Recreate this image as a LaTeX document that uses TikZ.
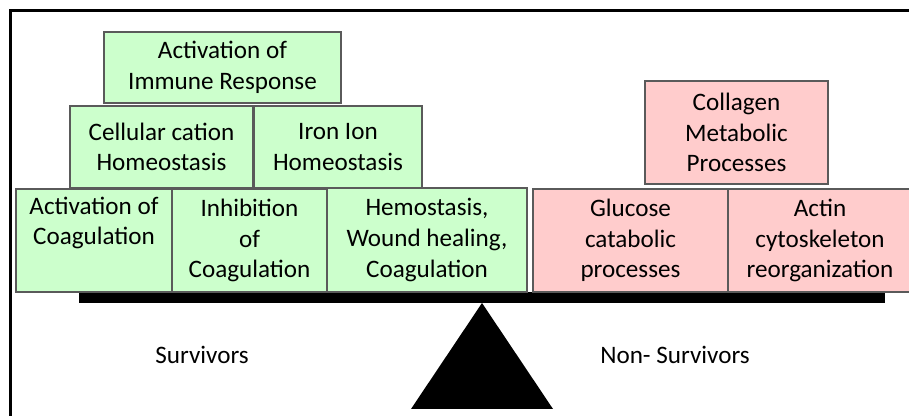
\documentclass[tikz,border=0pt]{standalone}
\usepackage{fontspec}
\setmainfont{Carlito}
\definecolor{survGreen}{RGB}{204,255,204}
\definecolor{nonRed}{RGB}{255,204,204}
\definecolor{boxGray}{RGB}{90,90,90}
\tikzset{
  termbox/.style={rectangle,draw=boxGray,line width=0.7pt,align=center,inner sep=0pt},
  survbox/.style={termbox,fill=survGreen},
  nonbox/.style={termbox,fill=nonRed}
}

\begin{document}
\begin{tikzpicture}[font=\fontsize{14.3}{17.4}\selectfont]
\useasboundingbox (0,0) rectangle (18.18,8.32);
\draw[line width=1.6pt] (18.6,8.11) -- (0.21,8.11) -- (0.21,-0.3);

% Balance
\fill (1.58,2.26) rectangle (17.70,2.48);
\fill (9.64,2.26) -- (11.06,0.14) -- (8.22,0.14) -- cycle;

% Survivors
\node[survbox,minimum width=4.74cm,minimum height=1.42cm] (immune) at (4.45,6.97) {Activation of\\Immune Response};
\node[survbox,minimum width=3.66cm,minimum height=1.64cm] (cation) at (3.23,5.38) {Cellular cation\\Homeostasis};
\node[survbox,minimum width=3.36cm,minimum height=1.64cm] (iron) at (6.76,5.38) {Iron Ion\\Homeostasis};
\node[survbox,minimum width=3.12cm,minimum height=2.06cm] (actcoag) at (1.88,3.51) {Activation of\\Coagulation\\\strut};
\node[survbox,minimum width=3.10cm,minimum height=2.06cm] (inhcoag) at (4.99,3.51) {Inhibition\\of\\Coagulation};
\node[survbox,minimum width=4.00cm,minimum height=2.08cm] (hemo) at (8.54,3.52) {Hemostasis,\\Wound healing,\\Coagulation};
\node (surv) at (4.04,1.22) {Survivors};

% Non-Survivors
\node[nonbox,minimum width=3.66cm,minimum height=2.06cm] (collagen) at (14.73,5.67) {Collagen\\Metabolic\\Processes};
\node[nonbox,minimum width=3.90cm,minimum height=2.06cm] (glucose) at (12.61,3.51) {Glucose\\catabolic\\processes};
\node[nonbox,minimum width=3.68cm,minimum height=2.06cm] (actin) at (16.40,3.51) {Actin\\cytoskeleton\\reorganization};
\node (nonsurv) at (13.50,1.22) {Non- Survivors};
\end{tikzpicture}
\end{document}
